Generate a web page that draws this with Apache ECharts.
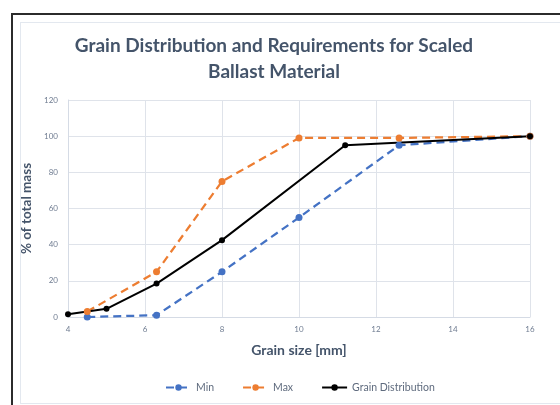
<!DOCTYPE html>
<html>
<head>
<meta charset="utf-8">
<script src="https://cdn.jsdelivr.net/npm/echarts@6/dist/echarts.min.js"></script>
<style>
  html, body { margin: 0; padding: 0; background: #fff; }
  #frame { position: absolute; left: 11px; top: 13px; width: 600px; height: 450px; border-left: 2px solid #2b2b2b; border-top: 2px solid #2b2b2b; }
  #panel { position: absolute; left: 20px; top: 22px; width: 600px; height: 380px; border: 1px solid #e3e8ef; }
  #chart { position: absolute; left: 0; top: 0; width: 560px; height: 405px; }
</style>
</head>
<body>
<div id="frame"></div>
<div id="panel"></div>
<div id="chart"></div>
<script>
// Sieve sizes [mm] and passing percentages
const minSizes = [4.5, 6.3, 8, 10, 12.6, 16];
const minValues = [0, 1, 25, 55, 95, 100];
const maxSizes = [4.5, 6.3, 8, 10, 12.6, 16];
const maxValues = [3, 25, 75, 99, 99, 100];
const gradSizes = [4, 5, 6.3, 8, 11.2, 16];
const gradValues = [1.5, 4.5, 18.5, 42.5, 95, 100];
const seriesNames = ['Min', 'Max', 'Grain Distribution'];
const titleText = 'Grain Distribution and Requirements for Scaled\nBallast Material';
const xAxisTitle = 'Grain size [mm]';
const yAxisTitle = '% of total mass';

const pairs = (xs, ys) => xs.map((x, i) => [x, ys[i]]);
const font = 'Lato, "Open Sans", sans-serif';

const chart = echarts.init(document.getElementById('chart'), null, { renderer: 'canvas' });
chart.setOption({
  animation: false,
  title: {
    text: titleText,
    left: 269, textAlign: 'center', top: 28,
    textStyle: { fontFamily: font, fontSize: 19, fontWeight: 'bold', color: '#44546a', lineHeight: 26 }
  },
  grid: { left: 68, right: 30, top: 100, bottom: 88 },
  xAxis: {
    type: 'value', min: 4, max: 16, interval: 2,
    name: xAxisTitle, nameLocation: 'middle', nameGap: 26,
    nameTextStyle: { fontFamily: font, fontSize: 14, fontWeight: 'bold', color: '#44546a' },
    axisLine: { show: true, lineStyle: { color: '#d5dbe5', width: 1 } },
    axisTick: { show: false },
    axisLabel: { fontFamily: font, fontSize: 8, color: '#6f7c91', margin: 8 },
    splitLine: { show: true, lineStyle: { color: '#dfe3ea', width: 1 } }
  },
  yAxis: {
    type: 'value', min: 0, max: 120, interval: 20,
    name: yAxisTitle, nameLocation: 'middle', nameGap: 29, nameRotate: 90,
    nameTextStyle: { fontFamily: font, fontSize: 13.5, fontWeight: 'bold', color: '#44546a' },
    axisLine: { show: true, lineStyle: { color: '#d5dbe5', width: 1 } },
    axisTick: { show: false },
    axisLabel: { fontFamily: font, fontSize: 8, color: '#6f7c91', margin: 10 },
    splitLine: { show: true, lineStyle: { color: '#dfe3ea', width: 1 } }
  },
  legend: {
    bottom: 7, left: 160, itemGap: 28, itemWidth: 25, itemHeight: 8,
    textStyle: { fontFamily: font, fontSize: 10.5, color: '#5f6b7e' },
    data: seriesNames
  },
  series: [
    {
      name: seriesNames[0], type: 'line', data: pairs(minSizes, minValues),
      symbol: 'circle', symbolSize: 7,
      lineStyle: { color: '#4472c4', width: 2.25, type: [8, 5] },
      itemStyle: { color: '#4472c4' }
    },
    {
      name: seriesNames[1], type: 'line', data: pairs(maxSizes, maxValues),
      symbol: 'circle', symbolSize: 7,
      lineStyle: { color: '#ed7d31', width: 2.25, type: [8, 5] },
      itemStyle: { color: '#ed7d31' }
    },
    {
      name: seriesNames[2], type: 'line', data: pairs(gradSizes, gradValues),
      symbol: 'circle', symbolSize: 6,
      lineStyle: { color: '#000000', width: 2 },
      itemStyle: { color: '#000000' }
    }
  ]
});
</script>
</body>
</html>
